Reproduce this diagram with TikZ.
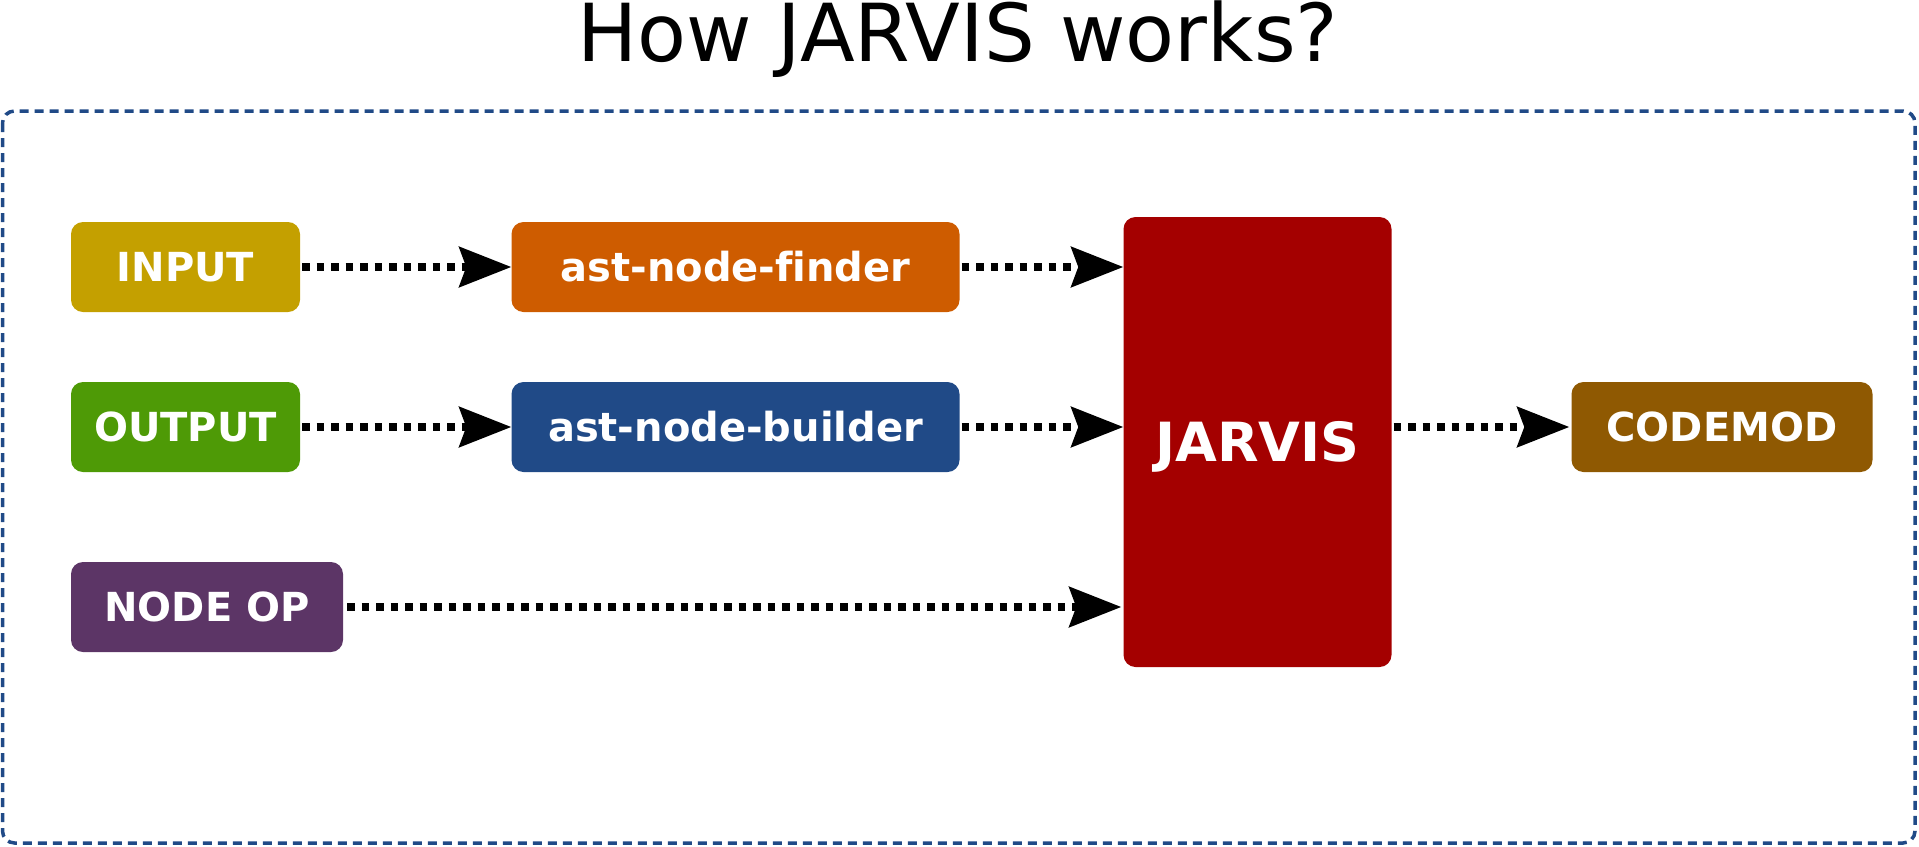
\documentclass[tikz,border=0pt]{standalone}
\usepackage{fontspec}
\setmainfont{DejaVu Sans}[Ligatures=NoCommon]
\usetikzlibrary{arrows.meta, positioning}
\definecolor{Butter}{HTML}{C4A000}
\definecolor{Tangerine}{HTML}{CE5C00}
\definecolor{Leaf}{HTML}{4E9A06}
\definecolor{SkyDark}{HTML}{204A87}
\definecolor{Plum}{HTML}{5C3566}
\definecolor{Scarlet}{HTML}{A40000}
\definecolor{Cocoa}{HTML}{8F5902}
\tikzset{
  stage/.style={rounded corners=12pt, inner sep=0pt, minimum height=90pt, text=white,
    font=\fontsize{40}{48}\selectfont\bfseries, text height=29pt, text depth=0pt},
  core/.style={stage, font=\fontsize{54}{64}\selectfont\bfseries, text height=39pt},
  flow/.style={-{Stealth[length=52pt, width=40pt, inset=7pt]}, line width=7.5pt,
    dash pattern=on 7.5pt off 7pt, color=black},
  frame/.style={draw=SkyDark, line width=3.5pt, dash pattern=on 9pt off 6pt, rounded corners=12pt},
}
\begin{document}
\begin{tikzpicture}[x=1pt, y=-1pt]
  \useasboundingbox (0,0) rectangle (1919,846);

  % Title and frame
  \node[font=\fontsize{80}{92}\selectfont, anchor=base] (title) at (958,61) {How JARVIS works?};
  \draw[frame] (2.5,111) rectangle (1915,843);

  % Left column
  \node[stage, fill=Butter, minimum width=229pt] (input) at (185.5,267) {INPUT};
  \node[stage, fill=Leaf, minimum width=229pt] (output) at (185.5,427) {OUTPUT};
  \node[stage, fill=Plum, minimum width=272pt] (nodeop) at (207,607) {NODE OP};

  % Middle column
  \node[stage, fill=Tangerine, minimum width=448pt] (finder) at (735.5,267) {ast-node-finder};
  \node[stage, fill=SkyDark, minimum width=448pt] (builder) at (735.5,427) {ast-node-builder};

  % Core and result
  \node[core, fill=Scarlet, minimum width=268pt, minimum height=450pt] (jarvis) at (1257.5,442) {JARVIS};
  \node[stage, fill=Cocoa, minimum width=301pt] (codemod) at (1722,427) {CODEMOD};

  % Connectors
  \draw[flow] ([xshift=2pt]input.east) -- (finder.west);
  \draw[flow] ([xshift=2pt]output.east) -- (builder.west);
  \draw[flow] ([xshift=2pt]finder.east) -- (finder.east -| jarvis.west);
  \draw[flow] ([xshift=2pt]builder.east) -- (builder.east -| jarvis.west);
  \draw[flow] ([xshift=4pt]nodeop.east) -- ([xshift=-2pt]nodeop.east -| jarvis.west);
  \draw[flow] ([xshift=2pt]jarvis.east |- codemod.west) -- ([xshift=-2pt]codemod.west);
\end{tikzpicture}
\end{document}
